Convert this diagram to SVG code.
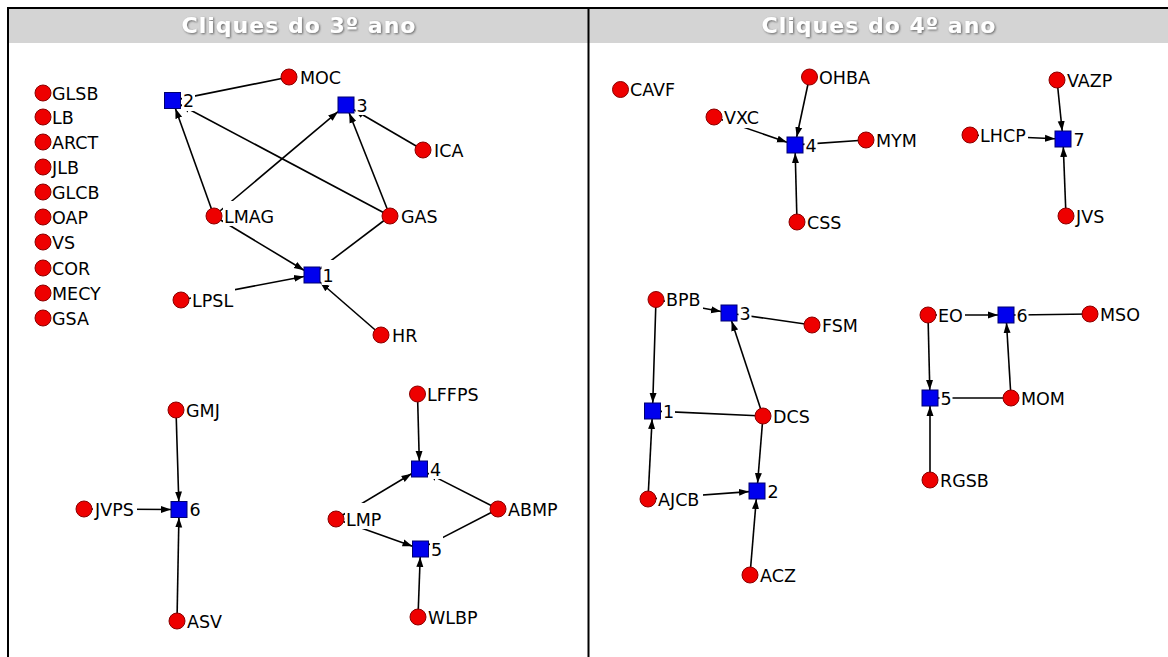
<svg xmlns="http://www.w3.org/2000/svg" width="1168" height="657" viewBox="0 0 1168 657">
<style>
.ed{stroke:#000;stroke-width:1.6;fill:none;marker-end:url(#ah)}
.dot{fill:#ee0000;stroke:#8a0000;stroke-width:1}
.sq{fill:#0000ee;stroke:#000070;stroke-width:1}
.lb{font-family:"DejaVu Sans",Verdana,sans-serif;font-size:17.5px;fill:#000}
.bg{fill:#fff}
.hd{font-family:"DejaVu Sans",Verdana,sans-serif;font-weight:bold;font-size:22px;fill:#fff;letter-spacing:1px;text-anchor:middle}
</style>
<defs>
<marker id="ah" markerUnits="userSpaceOnUse" markerWidth="10" markerHeight="8" refX="10" refY="4" orient="auto">
<path d="M0,0.5 L10,4 L0,7.5 z" fill="#000"/>
</marker>
<filter id="sh" x="-10%" y="-40%" width="120%" height="180%">
<feGaussianBlur in="SourceAlpha" stdDeviation="1.3" result="b"/>
<feOffset in="b" dx="0.5" dy="1" result="o"/>
<feComponentTransfer in="o" result="s"><feFuncA type="linear" slope="0.8"/></feComponentTransfer>
<feFlood flood-color="#4a4a4a"/>
<feComposite in2="s" operator="in" result="c"/>
<feMerge><feMergeNode in="c"/><feMergeNode in="SourceGraphic"/></feMerge>
</filter>
</defs>
<rect width="1168" height="657" fill="#fff"/>
<g id="frame">
<rect x="8" y="9" width="1160" height="34" fill="#d4d4d4"/>
<line x1="7" y1="8" x2="1168" y2="8" stroke="#000" stroke-width="2"/>
<line x1="8" y1="8" x2="8" y2="657" stroke="#000" stroke-width="2"/>
<line x1="588.5" y1="8" x2="588.5" y2="657" stroke="#000" stroke-width="2"/>
<text class="hd" x="299" y="33" filter="url(#sh)">Cliques do 3º ano</text>
<text class="hd" x="879" y="33" filter="url(#sh)">Cliques do 4º ano</text>
</g>
<g id="connectors">
<line class="ed" x1="289" y1="77" x2="180.5" y2="98.9"/>
<line class="ed" x1="214" y1="216" x2="175.4" y2="108.5"/>
<line class="ed" x1="390" y1="216" x2="180.5" y2="104.7"/>
<line class="ed" x1="214" y1="216" x2="338" y2="111.7"/>
<line class="ed" x1="390" y1="216" x2="349.2" y2="113"/>
<line class="ed" x1="423" y1="150" x2="354" y2="109.7"/>
<line class="ed" x1="214" y1="216" x2="304" y2="270.2"/>
<line class="ed" x1="390" y1="216" x2="320" y2="269"/>
<line class="ed" x1="181" y1="300" x2="304" y2="276.5"/>
<line class="ed" x1="381" y1="335" x2="320" y2="282"/>
<line class="ed" x1="176" y1="410" x2="178.8" y2="501.5"/>
<line class="ed" x1="84" y1="509" x2="171" y2="509.5"/>
<line class="ed" x1="177" y1="621" x2="178.9" y2="517.5"/>
<line class="ed" x1="417.5" y1="394" x2="419.3" y2="461"/>
<line class="ed" x1="336" y1="519" x2="411.5" y2="473.8"/>
<line class="ed" x1="498" y1="509" x2="427.5" y2="473.1"/>
<line class="ed" x1="336" y1="519" x2="412.5" y2="546.2"/>
<line class="ed" x1="498" y1="509" x2="428.5" y2="544.9"/>
<line class="ed" x1="418" y1="617" x2="420.2" y2="557"/>
<line class="ed" x1="809.5" y1="77" x2="796.7" y2="137"/>
<line class="ed" x1="714" y1="117" x2="787" y2="142.2"/>
<line class="ed" x1="866" y1="140" x2="803" y2="144.4"/>
<line class="ed" x1="797" y1="222" x2="795.2" y2="153"/>
<line class="ed" x1="1057" y1="80" x2="1062.2" y2="131"/>
<line class="ed" x1="970" y1="135" x2="1055" y2="138.7"/>
<line class="ed" x1="1066" y1="216" x2="1063.3" y2="147"/>
<line class="ed" x1="656" y1="299.5" x2="721" y2="311.5"/>
<line class="ed" x1="812" y1="325" x2="737" y2="314.2"/>
<line class="ed" x1="763" y1="416" x2="731.6" y2="321"/>
<line class="ed" x1="656" y1="299.5" x2="652.75" y2="403"/>
<line class="ed" x1="763" y1="416" x2="660.5" y2="411.4"/>
<line class="ed" x1="648" y1="499" x2="652.1" y2="419"/>
<line class="ed" x1="763" y1="416" x2="757.6" y2="483"/>
<line class="ed" x1="648" y1="499" x2="749" y2="491.6"/>
<line class="ed" x1="750" y1="575" x2="756.3" y2="499"/>
<line class="ed" x1="928" y1="315" x2="998" y2="315"/>
<line class="ed" x1="1090" y1="314" x2="1014" y2="315"/>
<line class="ed" x1="1011" y1="398" x2="1006.5" y2="323"/>
<line class="ed" x1="928" y1="315" x2="929.8" y2="390"/>
<line class="ed" x1="1011" y1="398" x2="938" y2="398"/>
<line class="ed" x1="930" y1="480" x2="930" y2="406"/>
</g>
<g id="n-GLSB"><circle class="dot" cx="43" cy="93" r="8"/><text class="lb" x="52" y="99.5">GLSB</text></g>
<g id="n-LB"><circle class="dot" cx="43" cy="117" r="8"/><text class="lb" x="52" y="123.5">LB</text></g>
<g id="n-ARCT"><circle class="dot" cx="43" cy="142" r="8"/><text class="lb" x="52" y="148.5">ARCT</text></g>
<g id="n-JLB"><circle class="dot" cx="43" cy="167" r="8"/><text class="lb" x="52" y="173.5">JLB</text></g>
<g id="n-GLCB"><circle class="dot" cx="43" cy="192" r="8"/><text class="lb" x="52" y="198.5">GLCB</text></g>
<g id="n-OAP"><circle class="dot" cx="43" cy="217" r="8"/><text class="lb" x="52" y="223.5">OAP</text></g>
<g id="n-VS"><circle class="dot" cx="43" cy="242" r="8"/><text class="lb" x="52" y="248.5">VS</text></g>
<g id="n-COR"><circle class="dot" cx="43" cy="268" r="8"/><text class="lb" x="52" y="274.5">COR</text></g>
<g id="n-MECY"><circle class="dot" cx="43" cy="293" r="8"/><text class="lb" x="52" y="299.5">MECY</text></g>
<g id="n-GSA"><circle class="dot" cx="43" cy="318" r="8"/><text class="lb" x="52" y="324.5">GSA</text></g>
<g id="c3-2"><rect class="sq" x="164.5" y="92.5" width="16" height="16"/><rect class="bg" x="182" y="86" width="13" height="25"/><text class="lb" x="183" y="107">2</text></g>
<g id="n-MOC"><circle class="dot" cx="289" cy="77" r="8"/><rect class="bg" x="299" y="62" width="44" height="25"/><text class="lb" x="300" y="83.5">MOC</text></g>
<g id="c3-3"><rect class="sq" x="338" y="97" width="16" height="16"/><rect class="bg" x="355.5" y="90" width="13" height="25"/><text class="lb" x="356.5" y="111.5">3</text></g>
<g id="n-ICA"><circle class="dot" cx="423" cy="150" r="8"/><rect class="bg" x="433" y="135" width="32" height="25"/><text class="lb" x="434" y="156.5">ICA</text></g>
<g id="n-LMAG"><circle class="dot" cx="214" cy="216" r="8"/><rect class="bg" x="223" y="201" width="53" height="25"/><text class="lb" x="224" y="222.5">LMAG</text></g>
<g id="n-GAS"><circle class="dot" cx="390" cy="216" r="8"/><rect class="bg" x="400" y="201" width="39" height="25"/><text class="lb" x="401" y="222.5">GAS</text></g>
<g id="c3-1"><rect class="sq" x="304" y="267" width="16" height="16"/><rect class="bg" x="321.5" y="260" width="13" height="25"/><text class="lb" x="322.5" y="281.5">1</text></g>
<g id="n-LPSL"><circle class="dot" cx="181" cy="300" r="8"/><rect class="bg" x="191" y="285" width="44" height="25"/><text class="lb" x="192" y="306.5">LPSL</text></g>
<g id="n-HR"><circle class="dot" cx="381" cy="335" r="8"/><rect class="bg" x="391" y="320" width="28" height="25"/><text class="lb" x="392" y="341.5">HR</text></g>
<g id="n-GMJ"><circle class="dot" cx="176" cy="410" r="8"/><rect class="bg" x="185" y="395" width="36" height="25"/><text class="lb" x="186" y="416.5">GMJ</text></g>
<g id="c3-6"><rect class="sq" x="171" y="501.5" width="16" height="16"/><rect class="bg" x="188.5" y="494.5" width="13" height="25"/><text class="lb" x="189.5" y="516">6</text></g>
<g id="n-JVPS"><circle class="dot" cx="84" cy="509" r="8"/><rect class="bg" x="93" y="494" width="44" height="25"/><text class="lb" x="95" y="515.5">JVPS</text></g>
<g id="n-ASV"><circle class="dot" cx="177" cy="621" r="8"/><rect class="bg" x="186" y="606" width="37" height="25"/><text class="lb" x="187" y="627.5">ASV</text></g>
<g id="n-LFFPS"><circle class="dot" cx="417.5" cy="394" r="8"/><rect class="bg" x="426" y="379" width="55" height="25"/><text class="lb" x="427" y="400.5">LFFPS</text></g>
<g id="c3-4"><rect class="sq" x="411.5" y="461" width="16" height="16"/><rect class="bg" x="429" y="454" width="13" height="25"/><text class="lb" x="430" y="475.5">4</text></g>
<g id="n-LMP"><circle class="dot" cx="336" cy="519" r="8"/><rect class="bg" x="345" y="503" width="38" height="26"/><text class="lb" x="346" y="525.5">LMP</text></g>
<g id="n-ABMP"><circle class="dot" cx="498" cy="509" r="8"/><rect class="bg" x="507" y="494" width="52" height="25"/><text class="lb" x="508" y="515.5">ABMP</text></g>
<g id="c3-5"><rect class="sq" x="412.5" y="541" width="16" height="16"/><rect class="bg" x="430" y="534" width="13" height="25"/><text class="lb" x="431" y="555.5">5</text></g>
<g id="n-WLBP"><circle class="dot" cx="418" cy="617" r="8"/><rect class="bg" x="427" y="602" width="52" height="25"/><text class="lb" x="428" y="623.5">WLBP</text></g>
<g id="n-CAVF"><circle class="dot" cx="620.5" cy="89.5" r="8"/><text class="lb" x="630" y="96">CAVF</text></g>
<g id="n-OHBA"><circle class="dot" cx="809.5" cy="77" r="8"/><rect class="bg" x="818" y="62" width="53" height="25"/><text class="lb" x="819" y="83.5">OHBA</text></g>
<g id="n-VXC"><circle class="dot" cx="714" cy="117" r="8"/><rect class="bg" x="723" y="102" width="39" height="26"/><text class="lb" x="724" y="123.5">VXC</text></g>
<g id="c4-4"><rect class="sq" x="787" y="137" width="16" height="16"/><rect class="bg" x="804.5" y="130" width="13" height="25"/><text class="lb" x="805.5" y="151.5">4</text></g>
<g id="n-MYM"><circle class="dot" cx="866" cy="140" r="8"/><rect class="bg" x="875" y="125" width="43" height="25"/><text class="lb" x="876" y="146.5">MYM</text></g>
<g id="n-CSS"><circle class="dot" cx="797" cy="222" r="8"/><rect class="bg" x="806" y="207" width="37" height="25"/><text class="lb" x="807" y="228.5">CSS</text></g>
<g id="n-VAZP"><circle class="dot" cx="1057" cy="80" r="8"/><rect class="bg" x="1066" y="65" width="49" height="25"/><text class="lb" x="1067" y="86.5">VAZP</text></g>
<g id="n-LHCP"><circle class="dot" cx="970" cy="135" r="8"/><rect class="bg" x="979" y="120" width="49" height="25"/><text class="lb" x="980" y="141.5">LHCP</text></g>
<g id="c4-7"><rect class="sq" x="1055" y="131" width="16" height="16"/><rect class="bg" x="1072.5" y="124" width="13" height="25"/><text class="lb" x="1073.5" y="145.5">7</text></g>
<g id="n-JVS"><circle class="dot" cx="1066" cy="216" r="8"/><rect class="bg" x="1075" y="201" width="31" height="25"/><text class="lb" x="1076" y="222.5">JVS</text></g>
<g id="n-BPB"><circle class="dot" cx="656" cy="299.5" r="8"/><rect class="bg" x="665" y="284.5" width="38" height="25"/><text class="lb" x="666" y="306">BPB</text></g>
<g id="c4-3"><rect class="sq" x="721" y="305" width="16" height="16"/><rect class="bg" x="738.5" y="298" width="13" height="25"/><text class="lb" x="739.5" y="319.5">3</text></g>
<g id="n-FSM"><circle class="dot" cx="812" cy="325" r="8"/><rect class="bg" x="821" y="310" width="39" height="25"/><text class="lb" x="822" y="331.5">FSM</text></g>
<g id="c4-1"><rect class="sq" x="644.5" y="403" width="16" height="16"/><rect class="bg" x="662" y="396" width="13" height="25"/><text class="lb" x="663" y="417.5">1</text></g>
<g id="n-DCS"><circle class="dot" cx="763" cy="416" r="8"/><rect class="bg" x="772" y="401" width="40" height="25"/><text class="lb" x="773" y="422.5">DCS</text></g>
<g id="n-AJCB"><circle class="dot" cx="648" cy="499" r="8"/><rect class="bg" x="657" y="484" width="46" height="25"/><text class="lb" x="658" y="505.5">AJCB</text></g>
<g id="c4-2"><rect class="sq" x="749" y="483" width="16" height="16"/><rect class="bg" x="766.5" y="476" width="13" height="25"/><text class="lb" x="767.5" y="497.5">2</text></g>
<g id="n-ACZ"><circle class="dot" cx="750" cy="575" r="8"/><rect class="bg" x="759" y="560" width="39" height="25"/><text class="lb" x="760" y="581.5">ACZ</text></g>
<g id="n-EO"><circle class="dot" cx="928" cy="315" r="8"/><rect class="bg" x="937" y="300" width="28" height="25"/><text class="lb" x="938" y="321.5">EO</text></g>
<g id="c4-6"><rect class="sq" x="998" y="307" width="16" height="16"/><rect class="bg" x="1015.5" y="300" width="13" height="25"/><text class="lb" x="1016.5" y="321.5">6</text></g>
<g id="n-MSO"><circle class="dot" cx="1090" cy="314" r="8"/><rect class="bg" x="1099" y="299" width="43" height="25"/><text class="lb" x="1100" y="320.5">MSO</text></g>
<g id="c4-5"><rect class="sq" x="922" y="390" width="16" height="16"/><rect class="bg" x="939.5" y="383" width="13" height="25"/><text class="lb" x="940.5" y="404.5">5</text></g>
<g id="n-MOM"><circle class="dot" cx="1011" cy="398" r="8"/><rect class="bg" x="1020" y="383" width="47" height="25"/><text class="lb" x="1021" y="404.5">MOM</text></g>
<g id="n-RGSB"><circle class="dot" cx="930" cy="480" r="8"/><rect class="bg" x="939" y="465" width="52" height="25"/><text class="lb" x="940" y="486.5">RGSB</text></g>
</svg>
